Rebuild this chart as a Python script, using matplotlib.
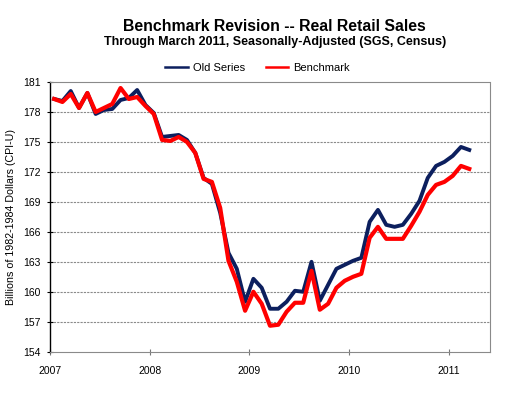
import numpy as np
import matplotlib
matplotlib.use("Agg")
from matplotlib import pyplot as plt

plt.rcParams['font.family'] = ['Liberation Sans', 'DejaVu Sans']

years = ["2007", "2008", "2009", "2010", "2011"]
y_ticks = [154, 157, 160, 163, 166, 169, 172, 175, 178, 181]

# monthly values, Jan 2007 .. Mar 2011
old_series = [179.3, 179.1, 180.1, 178.4, 179.9, 177.8, 178.2, 178.3, 179.2, 179.4,
              180.2, 178.7, 177.9, 175.5, 175.6, 175.7, 175.2, 173.9, 171.4, 170.8,
              167.9, 163.9, 162.3, 159.0, 161.3, 160.4, 158.3, 158.3, 159.0, 160.1,
              160.0, 163.0, 159.1, 160.7, 162.3, 162.7, 163.1, 163.4, 167.0, 168.2,
              166.7, 166.5, 166.7, 167.8, 169.1, 171.4, 172.6, 173.0, 173.6, 174.5,
              174.2]
benchmark = [179.3, 179.0, 179.8, 178.4, 179.9, 178.0, 178.4, 178.8, 180.4, 179.3,
             179.5, 178.6, 177.8, 175.2, 175.1, 175.5, 175.0, 173.9, 171.3, 171.0,
             168.4, 163.1, 161.0, 158.1, 160.0, 158.8, 156.6, 156.7, 158.0, 158.9,
             158.9, 162.1, 158.2, 158.8, 160.4, 161.1, 161.5, 161.8, 165.4, 166.5,
             165.3, 165.3, 165.3, 166.6, 168.0, 169.7, 170.7, 171.0, 171.6, 172.6,
             172.3]

months = np.arange(len(old_series)) + 0.5

fig = plt.figure(figsize=(5.08, 3.95), dpi=100)
ax = fig.add_axes([0.0984, 0.1096, 0.8662, 0.6828])

grid_style = dict(color='#8a8a8a', linestyle=(0, (2, 1)), linewidth=0.8)
for v in y_ticks[1:-1]:
    ax.axhline(v, zorder=1, **grid_style)

ax.plot(months, old_series, color='#0c1f5e', lw=2.8, label='Old Series', zorder=3)
ax.plot(months, benchmark, color='#ff0000', lw=3.0, label='Benchmark', zorder=4)

ax.set_xlim(0, 53)
ax.set_ylim(154, 181)
ax.set_yticks(y_ticks)
ax.set_yticklabels([str(v) for v in y_ticks], fontsize=7.5)
ax.set_xticks([0, 12, 24, 36, 48])
ax.set_xticklabels(years, fontsize=7.5)
ax.tick_params(axis='y', direction='inout', length=5, width=0.8, pad=4)
ax.tick_params(axis='x', direction='inout', length=4, width=0.8, color='#777777', pad=8)

ax.spines['left'].set_color('black')
ax.spines['left'].set_linewidth(1.0)
for s in ['top', 'right', 'bottom']:
    ax.spines[s].set_color('#8a8a8a')
    ax.spines[s].set_linestyle((0, (2, 1)))
    ax.spines[s].set_linewidth(0.8)

ax.set_ylabel('Billions of 1982-1984 Dollars (CPI-U)', fontsize=7.7, labelpad=5)

fig.text(0.54, 0.932, 'Benchmark Revision -- Real Retail Sales', ha='center', va='center',
         fontsize=11.4, fontweight='bold')
fig.text(0.541, 0.893, 'Through March 2011, Seasonally-Adjusted (SGS, Census)', ha='center',
         va='center', fontsize=9.0, fontweight='bold')

leg = fig.legend(loc='center', bbox_to_anchor=(0.507, 0.828), ncol=2, frameon=False,
                 fontsize=8, handlelength=2.0, handletextpad=0.45, columnspacing=1.9)
for h in leg.get_lines():
    h.set_linewidth(1.8)

fig.savefig('out.png', dpi=100)
